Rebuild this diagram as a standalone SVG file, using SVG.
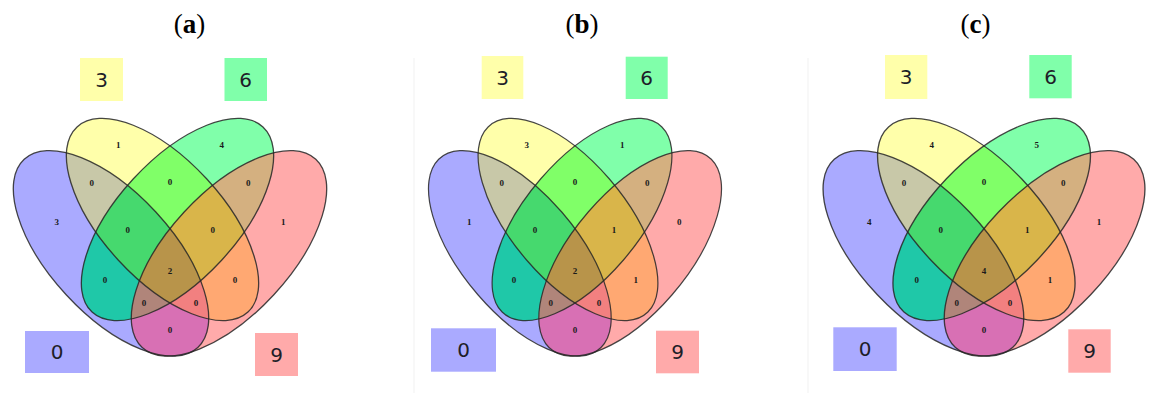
<svg xmlns="http://www.w3.org/2000/svg" width="1154" height="393" viewBox="0 0 1154 393">
<style>
.title{font-family:"Liberation Serif","Times New Roman",serif;font-size:27px;fill:#000;text-anchor:middle}
.bold{font-weight:bold}
.lab{font-family:"DejaVu Sans",Verdana,sans-serif;font-size:20px;fill:#1e1e28;text-anchor:middle}
.n{font-family:"Liberation Serif","Times New Roman",serif;font-size:9px;font-weight:bold;fill:#1a1a1a;text-anchor:middle}
.edge{fill:none;stroke:#262626;stroke-width:1.3;stroke-opacity:0.85}
.frame{stroke:#f1f1f1;stroke-width:1;fill:none}
.b0{fill:#aaaaff}.b3{fill:#ffffaa}.b6{fill:#80ffaa}.b9{fill:#ffaaaa}
</style>
<defs>
<ellipse id="eB" cx="-59" cy="253.4" rx="128" ry="61" transform="rotate(47.3 -59 253.4)"/>
<ellipse id="eY" cx="-7.5" cy="219.5" rx="126" ry="60" transform="rotate(47.3 -7.5 219.5)"/>
<ellipse id="eG" cx="7.5" cy="219.5" rx="126" ry="60" transform="rotate(-47.3 7.5 219.5)"/>
<ellipse id="eR" cx="59" cy="253.4" rx="128" ry="61" transform="rotate(-47.3 59 253.4)"/>
<clipPath id="cB"><use href="#eB"/></clipPath>
<clipPath id="cY"><use href="#eY"/></clipPath>
<clipPath id="cG"><use href="#eG"/></clipPath>
<g id="venn">
  <use href="#eB" fill="#aaaaff"/>
  <use href="#eY" fill="#ffffaa"/>
  <use href="#eG" fill="#80ffaa"/>
  <use href="#eR" fill="#ffaaaa"/>
  <g clip-path="url(#cB)">
    <use href="#eY" fill="#c8c8a8"/>
    <use href="#eG" fill="#1fc8a8"/>
    <use href="#eR" fill="#d870b4"/>
  </g>
  <g clip-path="url(#cY)">
    <use href="#eG" fill="#80ff68"/>
    <use href="#eR" fill="#ffa872"/>
  </g>
  <g clip-path="url(#cG)">
    <use href="#eR" fill="#d4b080"/>
  </g>
  <g clip-path="url(#cB)">
    <g clip-path="url(#cY)">
      <use href="#eG" fill="#46d96e"/>
      <use href="#eR" fill="#f28080"/>
    </g>
    <g clip-path="url(#cG)">
      <use href="#eR" fill="#b0857a"/>
    </g>
  </g>
  <g clip-path="url(#cY)">
    <g clip-path="url(#cG)">
      <use href="#eR" fill="#d9b54a"/>
    </g>
  </g>
  <g clip-path="url(#cB)"><g clip-path="url(#cY)"><g clip-path="url(#cG)">
    <use href="#eR" fill="#b8944a"/>
  </g></g></g>
  <use href="#eB" class="edge"/>
  <use href="#eY" class="edge"/>
  <use href="#eG" class="edge"/>
  <use href="#eR" class="edge"/>
</g>
</defs>

<rect width="1154" height="393" fill="#ffffff"/>
<line class="frame" x1="414" y1="58" x2="414" y2="393"/>
<line class="frame" x1="808" y1="58" x2="808" y2="393"/>

<!-- Panel a -->
<g id="panel-a">
  <text class="title" x="189.5" y="33">(<tspan class="bold">a</tspan>)</text>
  <use href="#venn" transform="translate(170 0)"/>
  <g id="a-set3"><rect class="b3" x="80" y="58" width="43" height="43"/><text class="lab" x="101.5" y="87">3</text></g>
  <g id="a-set6"><rect class="b6" x="224.5" y="58" width="42.5" height="43"/><text class="lab" x="245.7" y="87">6</text></g>
  <g id="a-set0"><rect class="b0" x="25" y="331" width="64" height="42"/><text class="lab" x="57" y="358.5">0</text></g>
  <g id="a-set9"><rect class="b9" x="255" y="333" width="43" height="43"/><text class="lab" x="276.5" y="361.5">9</text></g>
  <g id="a-counts">
    <text class="n" x="118.3" y="148">1</text>
    <text class="n" x="221.7" y="148">4</text>
    <text class="n" x="91.7" y="186.3">0</text>
    <text class="n" x="170" y="184.7">0</text>
    <text class="n" x="248.3" y="186.3">0</text>
    <text class="n" x="56.7" y="224.7">3</text>
    <text class="n" x="283.3" y="224.7">1</text>
    <text class="n" x="127.7" y="233">0</text>
    <text class="n" x="212.7" y="233">0</text>
    <text class="n" x="105" y="283">0</text>
    <text class="n" x="170" y="274">2</text>
    <text class="n" x="235" y="283">0</text>
    <text class="n" x="144" y="306.3">0</text>
    <text class="n" x="196" y="306.3">0</text>
    <text class="n" x="170" y="333">0</text>
  </g>
</g>

<!-- Panel b -->
<g id="panel-b">
  <text class="title" x="582" y="33">(<tspan class="bold">b</tspan>)</text>
  <use href="#venn" transform="translate(575 0) scale(0.935 1)"/>
  <g id="b-set3"><rect class="b3" x="481.7" y="56" width="41.6" height="43"/><text class="lab" x="502.5" y="85">3</text></g>
  <g id="b-set6"><rect class="b6" x="625.7" y="56.7" width="42" height="42.3"/><text class="lab" x="646.7" y="85.2">6</text></g>
  <g id="b-set0"><rect class="b0" x="431" y="328.3" width="65" height="43.4"/><text class="lab" x="463.5" y="357">0</text></g>
  <g id="b-set9"><rect class="b9" x="656" y="330.7" width="43" height="42.6"/><text class="lab" x="677.5" y="359.3">9</text></g>
  <g id="b-counts">
    <text class="n" x="526.7" y="148">3</text>
    <text class="n" x="622.3" y="148">1</text>
    <text class="n" x="501.7" y="186.3">0</text>
    <text class="n" x="575" y="184.7">0</text>
    <text class="n" x="647.3" y="186.3">0</text>
    <text class="n" x="469.3" y="224.7">1</text>
    <text class="n" x="679.3" y="224.7">0</text>
    <text class="n" x="535" y="233">0</text>
    <text class="n" x="614" y="233">1</text>
    <text class="n" x="514" y="283">0</text>
    <text class="n" x="575" y="274">2</text>
    <text class="n" x="635.7" y="283">1</text>
    <text class="n" x="550.7" y="306.3">0</text>
    <text class="n" x="599" y="306.3">0</text>
    <text class="n" x="575" y="333">0</text>
  </g>
</g>

<!-- Panel c -->
<g id="panel-c">
  <text class="title" x="975.5" y="33">(<tspan class="bold">c</tspan>)</text>
  <use href="#venn" transform="translate(984 0) scale(1.027 1)"/>
  <g id="c-set3"><rect class="b3" x="885" y="55" width="42.3" height="44"/><text class="lab" x="906.2" y="84.3">3</text></g>
  <g id="c-set6"><rect class="b6" x="1029.3" y="55" width="42.4" height="43.3"/><text class="lab" x="1050.5" y="84">6</text></g>
  <g id="c-set0"><rect class="b0" x="833.3" y="327.3" width="63.4" height="43.7"/><text class="lab" x="865" y="356">0</text></g>
  <g id="c-set9"><rect class="b9" x="1068.3" y="329.3" width="42.4" height="43.4"/><text class="lab" x="1089.5" y="358.3">9</text></g>
  <g id="c-counts">
    <text class="n" x="931.7" y="148">4</text>
    <text class="n" x="1036.7" y="148">5</text>
    <text class="n" x="904" y="186.3">0</text>
    <text class="n" x="984" y="184.7">0</text>
    <text class="n" x="1063.3" y="186.3">0</text>
    <text class="n" x="869.3" y="224.7">4</text>
    <text class="n" x="1099" y="224.7">1</text>
    <text class="n" x="940.7" y="233">0</text>
    <text class="n" x="1027.3" y="233">1</text>
    <text class="n" x="916.7" y="283">0</text>
    <text class="n" x="984" y="274">4</text>
    <text class="n" x="1050" y="283">1</text>
    <text class="n" x="956.7" y="306.3">0</text>
    <text class="n" x="1010" y="306.3">0</text>
    <text class="n" x="984" y="333">0</text>
  </g>
</g>
</svg>
